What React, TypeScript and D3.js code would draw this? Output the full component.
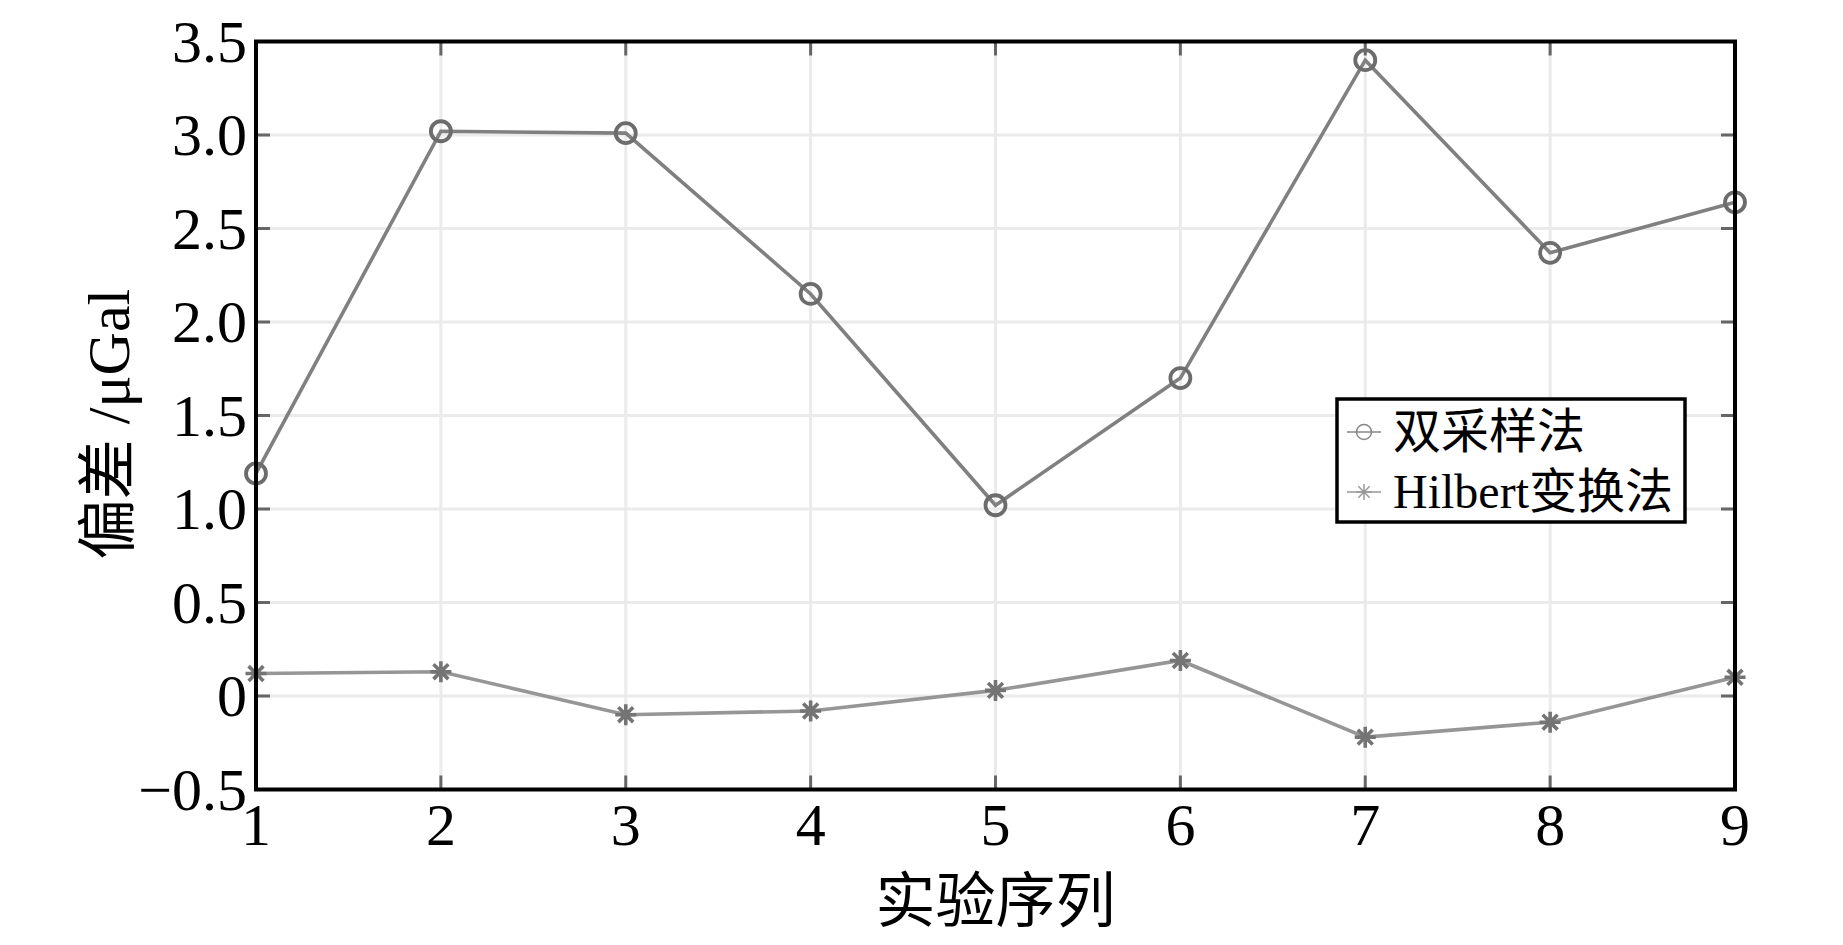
import React from "react";
import * as d3 from "d3";

const categories = [1, 2, 3, 4, 5, 6, 7, 8, 9];
const doubleSampling = [1.19, 3.02, 3.01, 2.15, 1.02, 1.70, 3.40, 2.37, 2.64];
const hilbert = [0.12, 0.13, -0.1, -0.08, 0.03, 0.19, -0.22, -0.14, 0.1];
const yTicks = [-0.5, 0, 0.5, 1.0, 1.5, 2.0, 2.5, 3.0, 3.5];
const yTickLabels = ["\u22120.5", "0", "0.5", "1.0", "1.5", "2.0", "2.5", "3.0", "3.5"];
const seriesNames = ["双采样法", "Hilbert变换法"];
const xTitle = "实验序列";
const yTitle = "偏差 /μGal";

const W = 1843;
const H = 945;
const M = { left: 256, right: 1735, top: 41.5, bottom: 789.5 };
const FONT = "'Liberation Serif', 'Times New Roman', 'Noto Sans CJK SC', serif";

export default function App() {
  const x = d3.scaleLinear().domain([1, 9]).range([M.left, M.right]);
  const y = d3.scaleLinear().domain([-0.5, 3.5]).range([M.bottom, M.top]);
  const line = d3
    .line<number>()
    .x((_, i) => x(categories[i]))
    .y((d) => y(d));

  const lineColor = "#808080";
  const markColor = "#6c6c6c";
  const star = (cx: number, cy: number, r: number, sw: number, color: string, key?: string | number) => {
    const d = [0, 45, 90, 135]
      .map((a) => {
        const rad = (a * Math.PI) / 180;
        const dx = Math.cos(rad) * r;
        const dy = Math.sin(rad) * r;
        return `M${cx - dx},${cy - dy}L${cx + dx},${cy + dy}`;
      })
      .join("");
    return <path key={key} d={d} stroke={color} strokeWidth={sw} fill="none" />;
  };

  const legX = 1337;
  const legY = 399;
  const legW = 348;
  const legH = 123;

  return (
    <svg
      width={W}
      height={H}
      style={{ position: "absolute", left: 0, top: 0, background: "#fff" }}
      fontFamily={FONT}
    >
      <rect x={0} y={0} width={W} height={H} fill="#fff" />
      {/* grid */}
      {categories.map((c) => (
        <line key={"gx" + c} x1={x(c)} x2={x(c)} y1={M.top} y2={M.bottom} stroke="#ebebeb" strokeWidth={3} />
      ))}
      {yTicks.map((t) => (
        <line key={"gy" + t} x1={M.left} x2={M.right} y1={y(t)} y2={y(t)} stroke="#ebebeb" strokeWidth={3} />
      ))}
      {/* ticks */}
      {categories.map((c) => (
        <g key={"tx" + c}>
          <line x1={x(c)} x2={x(c)} y1={M.bottom} y2={M.bottom - 14} stroke="#666" strokeWidth={3} />
          <line x1={x(c)} x2={x(c)} y1={M.top} y2={M.top + 14} stroke="#666" strokeWidth={3} />
        </g>
      ))}
      {yTicks.map((t) => (
        <g key={"ty" + t}>
          <line x1={M.left} x2={M.left + 14} y1={y(t)} y2={y(t)} stroke="#666" strokeWidth={3} />
          <line x1={M.right} x2={M.right - 14} y1={y(t)} y2={y(t)} stroke="#666" strokeWidth={3} />
        </g>
      ))}
      {/* series lines */}
      <path d={line(doubleSampling) || ""} fill="none" stroke={lineColor} strokeWidth={3.6} />
      <path d={line(hilbert) || ""} fill="none" stroke="#969696" strokeWidth={3.6} />
      {doubleSampling.map((v, i) => (
        <circle key={"c" + i} cx={x(categories[i])} cy={y(v)} r={10} fill="none" stroke={markColor} strokeWidth={3.8} />
      ))}
      {hilbert.map((v, i) => star(x(categories[i]), y(v), 10.5, 3.6, "#747474", "s" + i))}
      {/* axes box */}
      <rect
        x={M.left}
        y={M.top}
        width={M.right - M.left}
        height={M.bottom - M.top}
        fill="none"
        stroke="#000"
        strokeWidth={4}
      />
      {/* tick labels */}
      {yTicks.map((t, i) => (
        <text key={"ly" + t} x={247} y={y(t) + 20} textAnchor="end" fontSize={60} fill="#000">
          {yTickLabels[i]}
        </text>
      ))}
      {categories.map((c) => (
        <text key={"lx" + c} x={x(c)} y={845} textAnchor="middle" fontSize={60} fill="#000">
          {c}
        </text>
      ))}
      {/* axis titles */}
      <text x={(M.left + M.right) / 2} y={922} textAnchor="middle" fontSize={60} fill="#000">
        {xTitle}
      </text>
      <text
        transform={`translate(129, 424) rotate(-90)`}
        textAnchor="middle"
        fontSize={60}
        fill="#000"
      >
        {yTitle}
      </text>
      {/* legend */}
      <rect x={legX} y={legY} width={legW} height={legH} fill="#fff" stroke="#000" strokeWidth={3.5} />
      <line x1={1347} x2={1381} y1={432} y2={432} stroke="#888" strokeWidth={1.5} />
      <circle cx={1364} cy={432} r={7.5} fill="none" stroke="#888" strokeWidth={1.5} />
      <line x1={1347} x2={1381} y1={492} y2={492} stroke="#999" strokeWidth={1.5} />
      {star(1364, 492, 8, 1.5, "#999")}
      <text x={1393} y={448} fontSize={48} fill="#000">
        {seriesNames[0]}
      </text>
      <text x={1393} y={508} fontSize={48} fill="#000">
        {seriesNames[1]}
      </text>
    </svg>
  );
}
